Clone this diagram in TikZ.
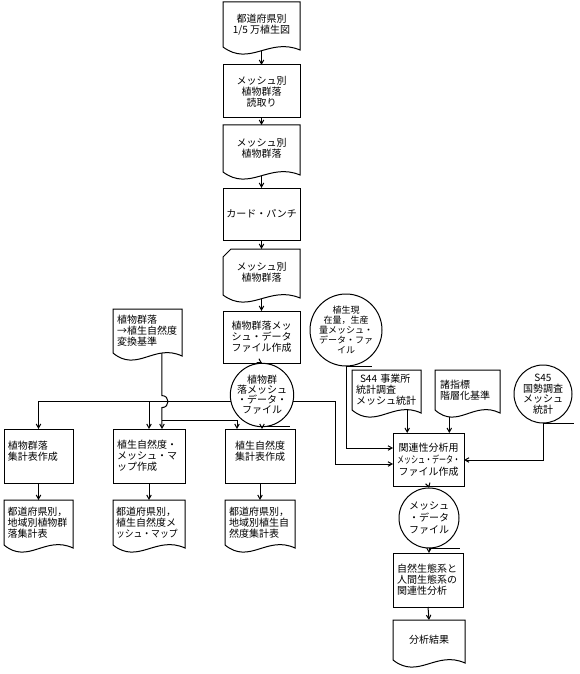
\documentclass[tikz,border=0pt]{standalone}
\usepackage{fontspec}
\setmainfont{Noto Sans CJK JP}
\usetikzlibrary{arrows.meta,calc}
\newcommand\mydoc[1]{\draw[ln] (#1.south east) -- (#1.north east) -- (#1.north west) -- (#1.south west) .. controls ($(#1.south west)!0.35!(#1.south east)+(0,20)$) and ($(#1.south west)!0.6!(#1.south east)+(0,-10)$) .. ($(#1.south east)+(0,3)$) -- cycle;}
\newcommand\mycard[1]{\draw[ln] (#1.south east) -- (#1.north east) -- ($(#1.north west)+(8,0)$) -- ($(#1.north west)+(0,8)$) -- (#1.south west) .. controls ($(#1.south west)!0.35!(#1.south east)+(0,20)$) and ($(#1.south west)!0.6!(#1.south east)+(0,-10)$) .. ($(#1.south east)+(0,3)$) -- cycle;}
\newcommand\mytape[2]{\draw[ln] (#1.south) -- ++(#2,0);}
\begin{document}
\begin{tikzpicture}[x=1pt,y=-1pt,
  every node/.style={inner sep=0pt, outer sep=0pt, font=\fontsize{10}{11}\selectfont},
  ln/.style={line width=1pt},
  arr/.style={ln,-{Straight Barb[length=4pt,width=4.5pt]}},
  boxn/.style={draw, ln, align=center},
  docn/.style={align=center},
  tapen/.style={circle, draw, ln, align=center},
]
\useasboundingbox (0,0) rectangle (579,674);
% main column
\node[docn, minimum width=77pt, minimum height=45pt] (D1) at (261.5,24.5) {都道府県別\\1/5 万植生図};
\mydoc{D1}
\node[boxn, minimum width=77pt, minimum height=53pt] (B2) at (261.5,91.5) {メッシュ別\\植物群落\\読取り};
\node[docn, minimum width=77pt, minimum height=47pt] (D3) at (261.5,148.5) {メッシュ別\\植物群落};
\mydoc{D3}
\node[boxn, minimum width=77pt, minimum height=52pt] (B4) at (261.5,214) {カード・パンチ};
\node[docn, minimum width=77pt, minimum height=46pt] (C5) at (261.5,272) {メッシュ別\\植物群落};
\mycard{C5}
\node[boxn, minimum width=77pt, minimum height=52pt] (B6) at (261.5,337) {植物群落メッ\\シュ・データ\\ファイル作成};
\node[tapen, minimum size=58pt, font=\fontsize{10}{10}\selectfont] (T7) at (262,395) {植物群\\落メッシュ\\・データ・\\ファイル};
\mytape{T7}{28}
% conversion standard
\node[docn, align=left, text width=61pt, minimum width=69pt, minimum height=44pt] (D8) at (147.5,331) {植物群落\\→植生自然度\\変換基準};
\mydoc{D8}
% lower left boxes
\node[boxn, align=left, text width=61pt, minimum width=69pt, minimum height=54pt] (B17) at (38.5,456) {植物群落\\集計表作成\\\mbox{}};
\node[boxn, align=left, text width=64pt, minimum width=72pt, minimum height=54pt] (B18) at (149,456) {植生自然度・\\メッシュ・マ\\ップ作成};
\node[boxn, minimum width=70pt, minimum height=54pt] (B19) at (260,456) {植生自然度\\集計表作成\\\mbox{}};
\node[docn, align=left, text width=62pt, minimum width=69pt, minimum height=45pt] (D20) at (38.5,522.5) {都道府県別，\\地域別植物群\\落集計表};
\mydoc{D20}
\node[docn, align=left, text width=66pt, minimum width=72pt, minimum height=45pt] (D21) at (149,522.5) {都道府県別，\\植生自然度メ\\\scalebox{0.88}[1]{ッシュ・マップ}};
\mydoc{D21}
\node[docn, align=left, text width=62pt, minimum width=70pt, minimum height=45pt] (D22) at (260,522.5) {都道府県別，\\地域別植生自\\然度集計表};
\mydoc{D22}
% right side
\node[tapen, minimum size=62pt, font=\fontsize{9}{10}\selectfont] (T9) at (346,330) {植生現\\在量，生産\\量メッシュ・\\データ・ファ\\イル};
\mytape{T9}{26}
\node[docn, align=left, text width=61pt, minimum width=69pt, minimum height=40pt] (D10) at (386.5,390) {\hspace{4pt}S44 事業所\\統計調査\\メッシュ統計};
\mydoc{D10}
\node[docn, align=left, text width=55pt, minimum width=65pt, minimum height=40pt] (D11) at (467.5,390) {諸指標\\階層化基準};
\mydoc{D11}
\node[tapen, minimum size=58pt, font=\fontsize{10}{10.5}\selectfont] (T12) at (543,394) {S45\\国勢調査\\メッシュ\\統計};
\mytape{T12}{31}
\node[boxn, minimum width=71pt, minimum height=53pt, font=\fontsize{10}{12}\selectfont] (B13) at (428.5,459.5) {関連性分析用\\\scalebox{0.7}[1]{メッシュ・データ・}\\ファイル作成};
\node[tapen, minimum size=60pt, font=\fontsize{10}{12}\selectfont] (T14) at (429,518) {メッシュ\\・データ\\ファイル};
\mytape{T14}{31}
\node[boxn, align=left, text width=62pt, minimum width=70pt, minimum height=54pt] (B15) at (428,580) {自然生態系と\\人間生態系の\\関連性分析};
\node[docn, minimum width=72pt, minimum height=40pt] (D16) at (429,640) {分析結果};
\mydoc{D16}
% connectors main column
\draw[arr] ($(D1.south)+(0,4)$) -- (B2.north);
\draw[arr] (B2.south) -- (D3.north);
\draw[arr] ($(D3.south)+(0,4)$) -- (B4.north);
\draw[arr] (B4.south) -- (C5.north);
\draw[arr] ($(C5.south)+(0,4)$) -- (B6.north);
\draw[arr] (B6.south) -- (T7.north);
% from T7 to the left
\draw[arr] (T7.192) -| (B17.north);
\draw[arr] (T7.192 -| B18.north) -- (B18.north);
\coordinate (v1) at ($(D8.south west)!0.71!(D8.south east)$);
\coordinate (h1) at ($(v1 |- T7.192)+(0,-6)$);
\coordinate (h2) at ($(v1 |- T7.192)+(0,6)$);
\coordinate (h1c) at ($(h1)+(8,0)$);
\coordinate (h2c) at ($(h2)+(8,0)$);
\draw[arr] (v1) -- (h1) .. controls (h1c) and (h2c) .. (h2) -- (v1 |- B18.north);
\coordinate (br) at ($(v1 |- B18.north)+(0,-9)$);
\coordinate (b19in) at ($(B19.north west)+(12,0)$);
\draw[arr] (br) -| (b19in);
\draw[arr] (T7.south) -- (T7.south |- B19.north);
% lower left
\draw[arr] (B17.south) -- (D20.north);
\draw[arr] (B18.south) -- (D21.north);
\draw[arr] (B19.south) -- (D22.north);
% to B13
\coordinate (c1) at (335,464);
\draw[arr] (T7.-12) -| (c1) -- (c1 -| B13.west);
\coordinate (c2) at ($(B13.west)+(0,-11.5)$);
\draw[arr] (T9.south) |- (c2);
\coordinate (c3) at ($(B13.east)+(0,0.5)$);
\draw[arr] (T12.south) |- (c3);
\coordinate (d10o) at ($(D10.south west)!0.8!(D10.south east)$);
\draw[arr] (d10o) -- (d10o |- B13.north);
\coordinate (d11o) at ($(D11.south west)!0.22!(D11.south east)+(0,6.5)$);
\draw[arr] (d11o) -- (d11o |- B13.north);
\draw[arr] (B13.south) -- (T14.north);
\draw[arr] (T14.south) -- (T14.south |- B15.north);
\draw[arr] (B15.south) -- (D16.north);
\end{tikzpicture}
\end{document}
